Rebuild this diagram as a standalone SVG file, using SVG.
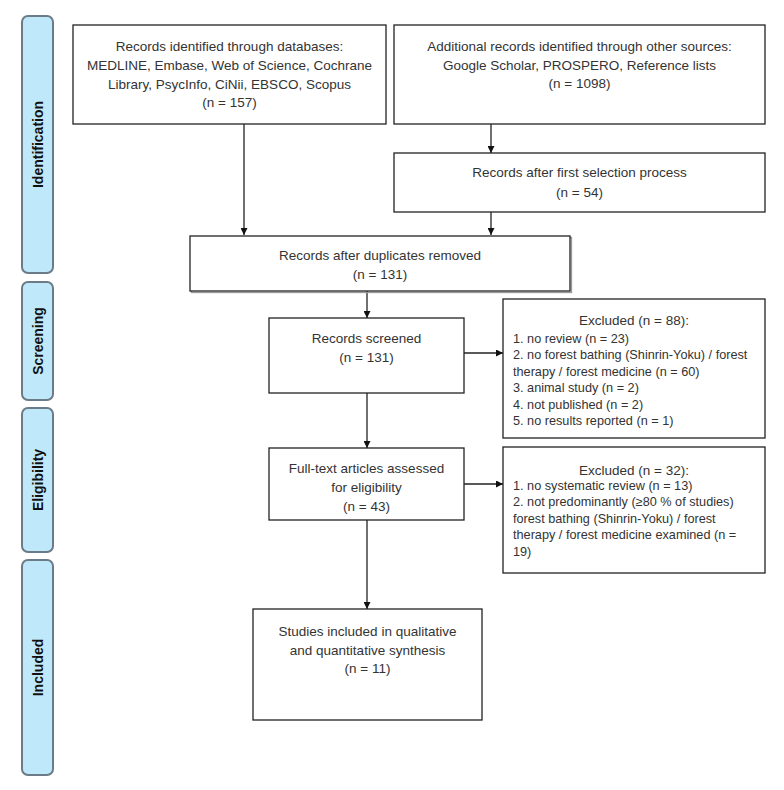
<svg xmlns="http://www.w3.org/2000/svg" width="784" height="790" viewBox="0 0 784 790">
<style>
.side{fill:#bfe9fb;stroke:#6b7c88;stroke-width:2}
.sl{font-family:"Liberation Sans",Arial,sans-serif;font-weight:bold;font-size:14px;fill:#111;text-anchor:middle}
.box{fill:#fff;stroke:#222;stroke-width:1.3}
.sh{fill:none;stroke:#999;stroke-width:1.3}
.t{font-family:"Liberation Sans",Arial,sans-serif;font-size:13.5px;fill:#333;text-anchor:middle}
.l{font-family:"Liberation Sans",Arial,sans-serif;font-size:12.7px;fill:#333}
.c{stroke:#222;stroke-width:1.3;fill:none;marker-end:url(#ah)}
</style>
<defs>
<marker id="ah" viewBox="0 0 10 10" refX="10" refY="5" markerWidth="7" markerHeight="7" markerUnits="userSpaceOnUse" orient="auto">
<path d="M0,0 L10,5 L0,10 z" fill="#111"/>
</marker>
</defs>
<rect width="784" height="790" fill="#fff"/>
<g id="phase-identification"><rect class="side" x="22" y="16" width="31" height="257" rx="6"/><text class="sl" transform="translate(42.5,144.5) rotate(-90)">Identification</text></g>
<g id="phase-screening"><rect class="side" x="22" y="282" width="31" height="118" rx="6"/><text class="sl" transform="translate(42.5,341) rotate(-90)">Screening</text></g>
<g id="phase-eligibility"><rect class="side" x="22" y="408" width="31" height="144" rx="6"/><text class="sl" transform="translate(42.5,480) rotate(-90)">Eligibility</text></g>
<g id="phase-included"><rect class="side" x="22" y="560" width="31" height="215" rx="6"/><text class="sl" transform="translate(42.5,667.5) rotate(-90)">Included</text></g>
<g id="connectors">
<path class="c" d="M244,124 V235"/>
<path class="c" d="M491,124 V153"/>
<path class="c" d="M491,212 V235"/>
<path class="c" d="M367,291 V318"/>
<path class="c" d="M367,393 V448"/>
<path class="c" d="M464,353 H503"/>
<path class="c" d="M367,520 V609"/>
<path class="c" d="M464,484 H503"/>
</g>
<g id="n-databases"><rect class="box" x="73" y="25" width="313" height="99"/>
<text class="t" x="229.5" y="51">Records identified through databases:</text>
<text class="t" x="229.5" y="70">MEDLINE, Embase, Web of Science, Cochrane</text>
<text class="t" x="229.5" y="88.5">Library, PsycInfo, CiNii, EBSCO, Scopus</text>
<text class="t" x="229.5" y="107">(n = 157)</text></g>
<g id="n-other"><rect class="box" x="394" y="25" width="371" height="99"/>
<text class="t" x="579.5" y="51">Additional records identified through other sources:</text>
<text class="t" x="579.5" y="69.5">Google Scholar, PROSPERO, Reference lists</text>
<text class="t" x="579.5" y="88">(n = 1098)</text></g>
<g id="n-first"><rect class="box" x="394" y="153" width="371" height="59"/>
<text class="t" x="579.5" y="176.5">Records after first selection process</text>
<text class="t" x="579.5" y="197">(n = 54)</text></g>
<g id="n-dup"><rect class="sh" x="191.5" y="237.5" width="380" height="55"/><rect class="box" x="190" y="236" width="380" height="55"/>
<text class="t" x="380" y="260">Records after duplicates removed</text>
<text class="t" x="380" y="278.5">(n = 131)</text></g>
<g id="n-screened"><rect class="box" x="269" y="318" width="195" height="75"/>
<text class="t" x="366.5" y="343">Records screened</text>
<text class="t" x="366.5" y="361.5">(n = 131)</text></g>
<g id="n-excl1"><rect class="box" x="503" y="299" width="262" height="139"/>
<text class="t" x="634" y="325">Excluded (n = 88):</text>
<text class="l" x="513" y="342.5">1. no review (n = 23)</text>
<text class="l" x="513" y="359">2. no forest bathing (Shinrin-Yoku) / forest</text>
<text class="l" x="513" y="375.6">therapy / forest medicine (n = 60)</text>
<text class="l" x="513" y="392.2">3. animal study (n = 2)</text>
<text class="l" x="513" y="408.8">4. not published (n = 2)</text>
<text class="l" x="513" y="425.4">5. no results reported (n = 1)</text></g>
<g id="n-fulltext"><rect class="box" x="269" y="448" width="195" height="72"/>
<text class="t" x="366.5" y="473">Full-text articles assessed</text>
<text class="t" x="366.5" y="491.5">for eligibility</text>
<text class="t" x="366.5" y="510.5">(n = 43)</text></g>
<g id="n-excl2"><rect class="box" x="503" y="447" width="262" height="126"/>
<text class="t" x="634" y="475">Excluded (n = 32):</text>
<text class="l" x="513" y="489.5">1. no systematic review (n = 13)</text>
<text class="l" x="513" y="506.1">2. not predominantly (≥80 % of studies)</text>
<text class="l" x="513" y="522.7">forest bathing (Shinrin-Yoku) / forest</text>
<text class="l" x="513" y="539.3">therapy / forest medicine examined (n =</text>
<text class="l" x="513" y="555.9">19)</text></g>
<g id="n-included"><rect class="box" x="253" y="609" width="229" height="111"/>
<text class="t" x="367.5" y="636">Studies included in qualitative</text>
<text class="t" x="367.5" y="654.5">and quantitative synthesis</text>
<text class="t" x="367.5" y="673">(n = 11)</text></g>
</svg>
